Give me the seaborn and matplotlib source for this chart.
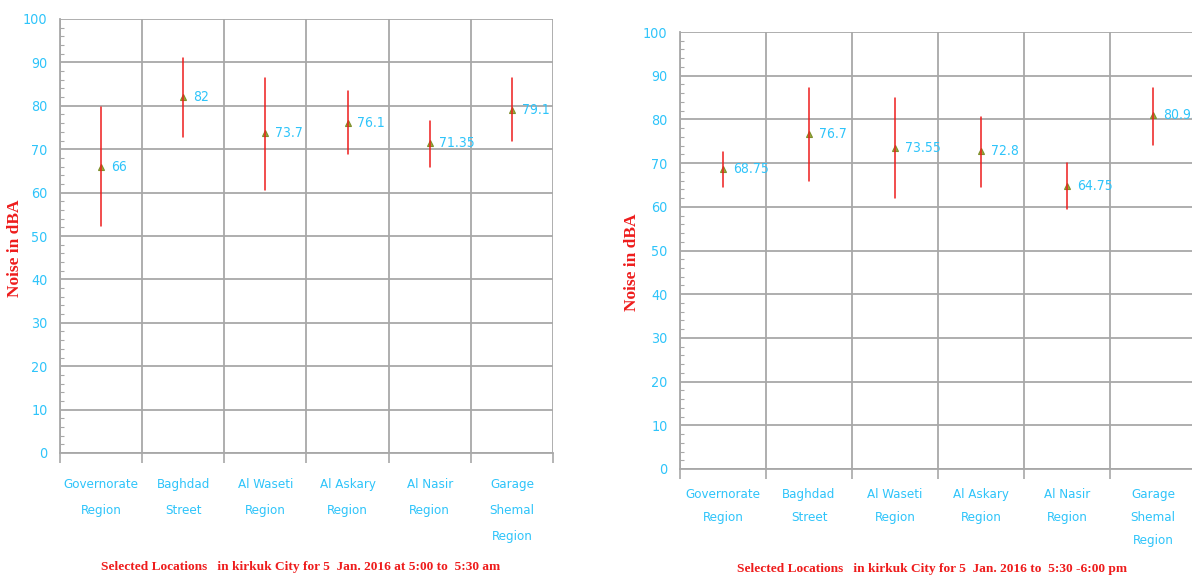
import numpy as np
import pandas as pd
import matplotlib
matplotlib.use("Agg")
import matplotlib.pyplot as plt
import seaborn as sns
from matplotlib.ticker import MultipleLocator, FixedLocator

# ---------------- data ----------------
categories = ["Governorate\nRegion", "Baghdad\nStreet", "Al Waseti\nRegion",
              "Al Askary\nRegion", "Al Nasir\nRegion", "Garage\nShemal\nRegion"]

am_mean = [66, 82, 73.7, 76.1, 71.35, 79.1]
am_min = [52.2, 72.8, 60.6, 68.8, 65.9, 71.8]
am_max = [79.7, 90.9, 86.3, 83.3, 76.4, 86.3]
am_labels = ["66", "82", "73.7", "76.1", "71.35", "79.1"]

pm_mean = [68.75, 76.7, 73.55, 72.8, 64.75, 80.95]
pm_min = [64.6, 65.9, 62.0, 64.6, 59.4, 74.2]
pm_max = [72.6, 87.2, 84.8, 80.6, 70.1, 87.2]
pm_labels = ["68.75", "76.7", "73.55", "72.8", "64.75", "80.95"]

y_ticks = [0, 10, 20, 30, 40, 50, 60, 70, 80, 90, 100]
y_label = "Noise in dBA"
am_title = "Selected Locations   in kirkuk City for 5  Jan. 2016 at 5:00 to  5:30 am"
pm_title = "Selected Locations   in kirkuk City for 5  Jan. 2016 to  5:30 -6:00 pm"

# ---------------- style ----------------
sns.set_style("white")
plt.rcParams["font.family"] = ["DejaVu Sans"]
plt.rcParams["font.stretch"] = "condensed"

BLUE = "#2ec4fa"
RED = "#ee1c1c"
GRID = "#a8a8a8"
MARK = "#98a93a"
SERIF = ["Liberation Serif", "DejaVu Serif"]

fig = plt.figure(figsize=(11.92, 5.78), dpi=100)
W, H = 1192, 578


def make_df(mins, means, maxs):
    rows = []
    for c, lo, m, hi in zip(categories, mins, means, maxs):
        for v in (lo, m, hi):
            rows.append({"loc": c, "noise": v})
    return pd.DataFrame(rows)


def draw(rect_px, mins, means, maxs, labels, title, ylab_x, title_y, linesp, xpad):
    l, t, r, b = rect_px
    ax = fig.add_axes([l / W, 1 - b / H, (r - l) / W, (b - t) / H])
    df = make_df(mins, means, maxs)
    sns.pointplot(data=df, x="loc", y="noise", order=categories,
                  estimator="median", errorbar=("pi", 100),
                  linestyle="none", marker="^", markersize=5,
                  color=MARK, markeredgecolor="#7d8e2c", markeredgewidth=0.8,
                  err_kws={"color": RED, "linewidth": 1.1}, ax=ax, zorder=5)
    ax.set_ylim(0, 100)
    ax.set_xlim(-0.5, len(categories) - 0.5)
    # value labels
    for i, (m, lab) in enumerate(zip(means, labels)):
        ax.annotate(lab, (i, m), xytext=(7, 0), textcoords="offset points",
                    color=BLUE, fontsize=10, va="center", ha="left",
                    annotation_clip=False, zorder=6)
    # grids
    ax.yaxis.set_major_locator(FixedLocator(y_ticks))
    ax.yaxis.set_minor_locator(MultipleLocator(2))
    ax.xaxis.set_minor_locator(FixedLocator(np.arange(-0.5, len(categories), 1.0)))
    ax.grid(True, which="major", axis="y", color=GRID, linewidth=1.3)
    ax.grid(True, which="minor", axis="x", color=GRID, linewidth=1.3)
    ax.set_axisbelow(True)
    ax.tick_params(axis="y", which="major", direction="out", length=5,
                   color=GRID, width=1.2, labelcolor=BLUE, labelsize=10.3, pad=4)
    ax.tick_params(axis="y", which="minor", direction="in", length=3,
                   color=GRID, width=0.8, left=True)
    ax.tick_params(axis="x", which="major", length=0, labelcolor=BLUE,
                   labelsize=9.5, pad=xpad)
    ax.tick_params(axis="x", which="minor", direction="out", length=7,
                   color=GRID, width=1.2, bottom=True)
    for lab in ax.get_xticklabels():
        lab.set_linespacing(linesp)
        lab.set_va("top")
    for s in ["top", "right"]:
        ax.spines[s].set_visible(False)
    for s in ["left", "bottom"]:
        ax.spines[s].set_color(GRID)
        ax.spines[s].set_linewidth(1.3)
    ax.set_xlabel("")
    ax.set_ylabel("")
    fig.text(ylab_x / W, 1 - ((t + b) / 2 + 12) / H, y_label, rotation=90,
             color=RED, fontsize=12.5, fontweight="bold", family=SERIF,
             ha="center", va="center")
    fig.text(((l + r) / 2 - 6) / W, 1 - title_y / H, title, color=RED,
             fontsize=9.6, fontweight="bold", family=SERIF,
             ha="center", va="center")
    return ax


draw((60, 19, 553, 453), am_min, am_mean, am_max, am_labels, am_title,
     15, 567, 2.3, 18)
draw((680, 32, 1196, 469), pm_min, pm_mean, pm_max, pm_labels, pm_title,
     632, 569, 2.0, 14)

fig.savefig("out.png", dpi=100, facecolor="white")
